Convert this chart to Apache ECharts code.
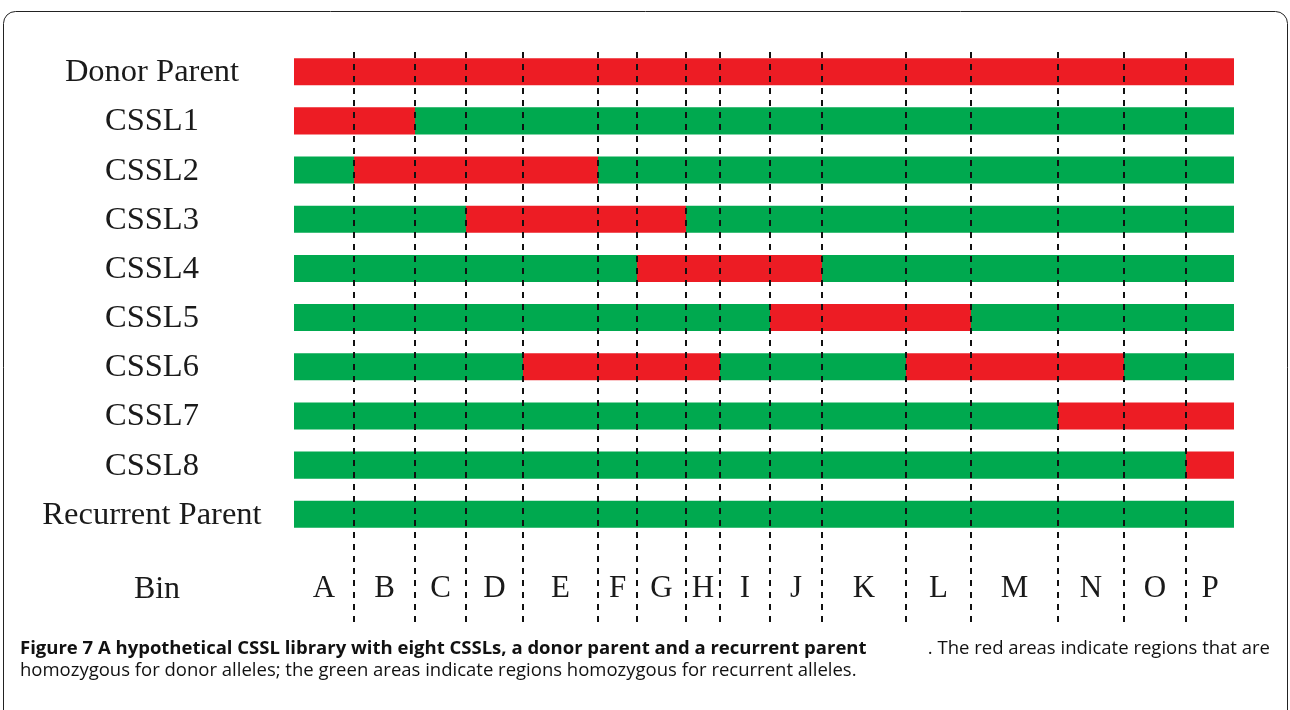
<!DOCTYPE html>
<html>
<head>
<meta charset="utf-8">
<script src="https://cdn.jsdelivr.net/npm/echarts@6/dist/echarts.min.js"></script>
<style>
html,body{margin:0;padding:0;background:#fff;}
#main{width:1290px;height:710px;}
</style>
</head>
<body>
<div id="main"></div>
<script>
// Row names (top to bottom)
var rows = ['Donor Parent','CSSL1','CSSL2','CSSL3','CSSL4','CSSL5','CSSL6','CSSL7','CSSL8','Recurrent Parent'];
// Bin labels
var bins = ['A','B','C','D','E','F','G','H','I','J','K','L','M','N','O','P'];
// Bin boundary positions along the chromosome (arbitrary map units)
var binEdges = [0, 60, 121, 172, 229, 304, 343, 392, 426, 476, 528, 612, 677, 764, 830, 892, 940];
// Donor (red) segments per row, as [first bin index, last bin index]
var donorSegments = [
  [[0, 15]],
  [[0, 1]],
  [[1, 4]],
  [[3, 6]],
  [[6, 9]],
  [[9, 11]],
  [[4, 7], [11, 13]],
  [[13, 15]],
  [[15, 15]],
  []
];
var binRowLabel = 'Bin';

var RED = '#ED1C24', GREEN = '#00A94F';
var serif = "'Liberation Serif','DejaVu Serif',serif";

// Build segment data: [row, start, end, isDonor]
var segData = [];
rows.forEach(function (name, r) {
  var segs = donorSegments[r];
  var marks = [];
  for (var b = 0; b < bins.length; b++) {
    var d = segs.some(function (s) { return b >= s[0] && b <= s[1]; });
    marks.push(d ? 1 : 0);
  }
  var start = 0;
  for (var b2 = 1; b2 <= bins.length; b2++) {
    if (b2 === bins.length || marks[b2] !== marks[start]) {
      segData.push([r, binEdges[start], binEdges[b2], marks[start]]);
      start = b2;
    }
  }
});

var labelData = rows.map(function (n, i) { return [i, n]; });
var binRowY = 10.52;
var letterData = bins.map(function (b, i) { return [(binEdges[i] + binEdges[i + 1]) / 2, binRowY, b]; });

var chart = echarts.init(document.getElementById('main'));
chart.setOption({
  animation: false,
  grid: { left: 294, right: 56, top: 52, bottom: 85 },
  xAxis: { type: 'value', min: 0, max: 940, show: false },
  yAxis: { type: 'value', min: -0.4, max: 11.25, inverse: true, show: false },
  series: [
    {
      type: 'custom',
      data: segData,
      encode: { x: [1, 2], y: 0 },
      renderItem: function (params, api) {
        var p0 = api.coord([api.value(1), api.value(0)]);
        var p1 = api.coord([api.value(2), api.value(0)]);
        var h = api.size([0, 1])[1] * 0.55;
        return {
          type: 'rect',
          shape: { x: p0[0], y: p0[1] - h / 2, width: p1[0] - p0[0], height: h },
          style: { fill: api.value(3) ? RED : GREEN }
        };
      },
      markLine: {
        silent: true,
        symbol: 'none',
        label: { show: false },
        lineStyle: { color: '#111', width: 2, type: [6, 6] },
        data: binEdges.slice(1, binEdges.length - 1).map(function (e) { return { xAxis: e }; }),
        z: 10
      },
      z: 2
    },
    {
      type: 'custom',
      clip: false,
      data: labelData,
      encode: { y: 0 },
      renderItem: function (params, api) {
        var p = api.coord([0, api.value(0)]);
        return {
          type: 'text',
          x: p[0] - 142, y: p[1] + 1,
          style: { text: rows[api.value(0)], font: '32.5px ' + serif, fill: '#1a1a1a', align: 'center', verticalAlign: 'middle' }
        };
      }
    },
    {
      type: 'custom',
      clip: false,
      data: letterData,
      encode: { x: 0, y: 1 },
      renderItem: function (params, api) {
        var p = api.coord([api.value(0), api.value(1)]);
        var items = [{
          type: 'text',
          x: p[0], y: p[1],
          style: { text: bins[params.dataIndex], font: '31px ' + serif, fill: '#1a1a1a', align: 'center', verticalAlign: 'middle' }
        }];
        if (params.dataIndex === 0) {
          items.push({
            type: 'text',
            x: params.coordSys.x - 137, y: p[1],
            style: { text: binRowLabel, font: '32px ' + serif, fill: '#1a1a1a', align: 'center', verticalAlign: 'middle' }
          });
        }
        return { type: 'group', children: items };
      }
    }
  ],
  graphic: [
    {
      type: 'rect',
      shape: { x: 3.5, y: 11.5, width: 1284, height: 800, r: 12 },
      style: { fill: 'none', stroke: '#222', lineWidth: 1 }
    },
    {
      type: 'text', left: 20, top: 639,
      style: { text: 'Figure 7 A hypothetical CSSL library with eight CSSLs, a donor parent and a recurrent parent', font: 'bold 18.5px "Open Sans"', fill: '#111' }
    },
    {
      type: 'text', right: 20, top: 639,
      style: { text: '. The red areas indicate regions that are', font: '18.5px "Open Sans"', fill: '#111' }
    },
    {
      type: 'text', left: 20, top: 661,
      style: { text: 'homozygous for donor alleles; the green areas indicate regions homozygous for recurrent alleles.', font: '18.5px "Open Sans"', fill: '#111' }
    }
  ]
});
</script>
</body>
</html>
